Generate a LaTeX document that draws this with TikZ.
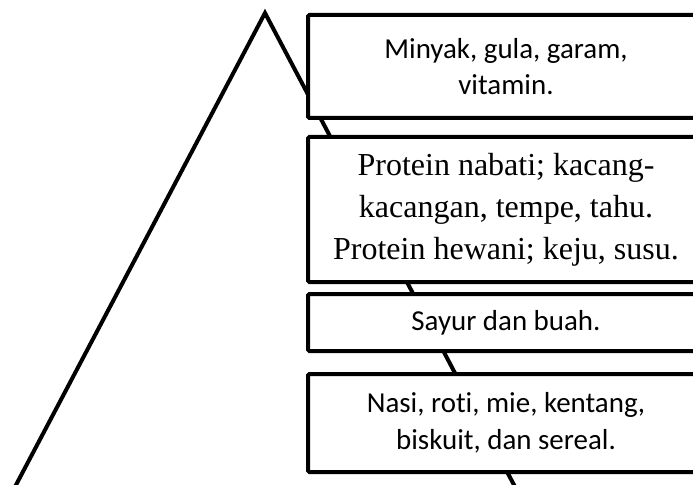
\documentclass[tikz,border=0pt]{standalone}
\usepackage{fontspec}
\setmainfont{Liberation Serif}
\newfontfamily\calfont[Ligatures={NoCommon}]{Carlito}
\begin{document}
\begin{tikzpicture}[x=0.75pt,y=-0.75pt,
  layerbox/.style={draw=black, line width=3pt, fill=white, rounded corners=1pt,
    rectangle, minimum width=297pt, align=center, inner sep=0pt},
  calibritext/.style={font=\calfont\fontsize{21.7pt}{26.5pt}\selectfont},
  timestext/.style={font=\fontsize{24pt}{31.5pt}\selectfont},
  pyramidline/.style={line width=3pt, line join=miter}]
\clip (0,0) rectangle (693,485);
\fill[white] (0,0) rectangle (693,485);
\coordinate (apex) at (265,13);
\coordinate (baseL) at (7,502);
\coordinate (baseR) at (523,502);
\draw[pyramidline] (baseL) -- (apex) -- (baseR);
\node[layerbox, calibritext, minimum height=77.25pt] (b1) at (506,66.5)
  {Minyak, gula, garam,\\vitamin.};
\node[layerbox, timestext, minimum height=108.75pt] (b2) at (506,209.5)
  {Protein nabati; kacang-\\kacangan, tempe, tahu.\\Protein hewani; keju, susu.};
\node[layerbox, calibritext, minimum height=42.75pt] (b3) at (506,322.5)
  {Sayur dan buah.};
\node[layerbox, calibritext, font=\calfont\fontsize{21.7pt}{27.5pt}\selectfont, minimum height=73.5pt] (b4) at (506,423)
  {Nasi, roti, mie, kentang,\\biskuit, dan sereal.};
\end{tikzpicture}
\end{document}
